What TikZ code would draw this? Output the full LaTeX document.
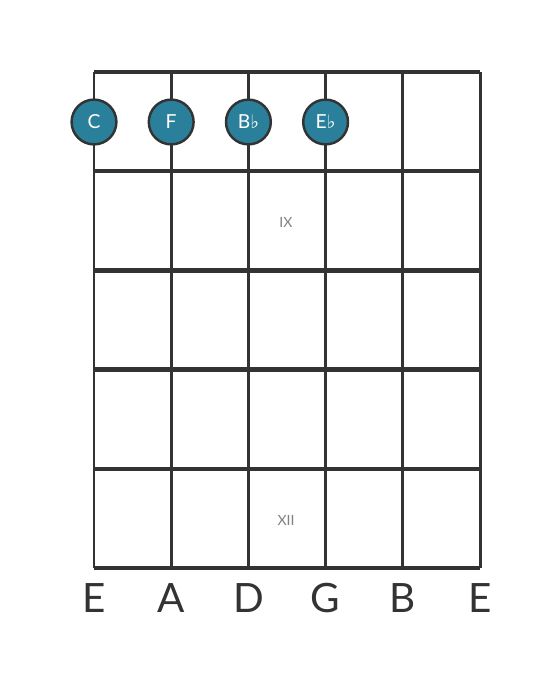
\documentclass[tikz,border=0pt]{standalone}
\usepackage{fontspec}
\setmainfont{Lato}
\newfontfamily\symfont{DejaVu Sans}
\usepackage{xcolor}
\usetikzlibrary{positioning}
\definecolor{notefill}{HTML}{2A7F9A}
\definecolor{wire}{HTML}{333333}
\tikzstyle{fret} = [draw=wire, line width=2.4pt]
\tikzstyle{string} = [draw=wire, line width=1.7pt]
\tikzstyle{note} = [circle, draw=wire, line width=1.4pt, fill=notefill, text=white, minimum size=25.5pt, inner sep=0pt, font=\fontsize{11}{11}\selectfont]
\tikzstyle{tuning} = [text=wire, font=\fontsize{23}{23}\selectfont]
\tikzstyle{fretno} = [text=gray, font=\fontsize{8}{8}\selectfont]
\newcommand{\flt}{{\symfont\fontsize{10.5}{10.5}\selectfont\char"266D}}

\begin{document}
\begin{tikzpicture}[x=0.02cm, y=-0.02cm]
\useasboundingbox (0,0) rectangle (560,682);
% strings
\foreach \s in {0,...,5}
  \path [string] (94+77.2*\s,72) -- (94+77.2*\s,568);
% frets
\foreach \f in {0,...,5}
  \path [fret] (94,72+99.2*\f) -- (480,72+99.2*\f);
% fret numbers
\node [fretno] (nine) at (286,222) {IX};
\node [fretno] (twelve) at (286,520) {XII};
% notes
\node [note] (c) at (94,122) {C};
\node [note] (f) at (171.2,122) {F};
\node [note] (bb) at (248.4,122) {B\flt};
\node [note] (eb) at (325.6,122) {E\flt};
% open strings
\node [tuning] (e1) at (94,598) {E};
\node [tuning] (a) at (171.2,598) {A};
\node [tuning] (d) at (248.4,598) {D};
\node [tuning] (g) at (325.6,598) {G};
\node [tuning] (b) at (402.8,598) {B};
\node [tuning] (e2) at (480,598) {E};
\end{tikzpicture}
\end{document}
